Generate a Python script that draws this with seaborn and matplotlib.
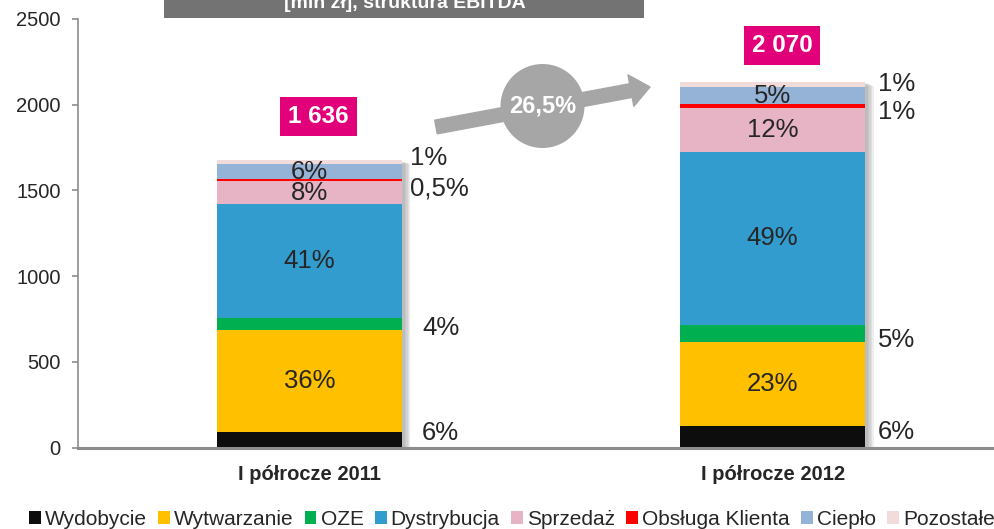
import numpy as np
import pandas as pd
import matplotlib
matplotlib.use("Agg")
import matplotlib.pyplot as plt
import matplotlib.patheffects as pe
from matplotlib.patches import Patch, Rectangle, Ellipse
import seaborn as sns

# dane [mln zl]
periods = ["I półrocze 2011", "I półrocze 2012"]
segments = ["Wydobycie", "Wytwarzanie", "OZE", "Dystrybucja", "Sprzedaż",
            "Obsługa Klienta", "Ciepło", "Pozostałe"]
values_2011 = [90, 595, 68, 666, 137, 8, 92, 19]
values_2012 = [125, 488, 103, 1009, 253, 25, 101, 27]
totals = ["1 636", "2 070"]
growth = "26,5%"
pct_2011 = ["6%", "36%", "4%", "41%", "8%", "0,5%", "6%", "1%"]
pct_2012 = ["6%", "23%", "5%", "49%", "12%", "1%", "5%", "1%"]
inside = [False, True, False, True, True, False, True, False]

colors = ["#0D0D0D", "#FFC000", "#00B050", "#339CCF", "#E6B4C4",
          "#FF0000", "#95B3D7", "#F2DCDB"]

W, H = 994, 529
sns.set_style("white")
plt.rcParams["font.family"] = ["Liberation Sans", "DejaVu Sans"]

df = pd.DataFrame({
    "period": np.repeat(periods, len(segments)),
    "segment": segments * 2,
    "value": values_2011 + values_2012,
})
df["top"] = df.groupby("period")["value"].cumsum()
df["mid"] = df["top"] - df["value"] / 2

fig = plt.figure(figsize=(W / 100, H / 100), dpi=100)
ax = fig.add_axes([78 / W, 1 - 447.5 / H, (W - 78) / W, (447.5 - 19) / H])

# miekki cien po prawej stronie slupka
shadow = [pe.SimplePatchShadow(offset=(d, -d * 0.4), shadow_rgbFace="#808080", alpha=0.13)
          for d in (6, 5, 4, 3, 2)] + [pe.Normal()]

# stos: rysujemy od najwyzszej sumy w dol
for i, seg in reversed(list(enumerate(segments))):
    n_before = len(ax.patches)
    sns.barplot(data=df[df["segment"] == seg], x="period", y="top", order=periods,
                color=colors[i], saturation=1, width=0.4, ax=ax, linewidth=0)
    if i == len(segments) - 1:
        for p in ax.patches[n_before:]:
            p.set_path_effects(shadow)

ax.set_xlim(-0.5, 1.478)
ax.set_ylim(0, 2500)
ax.set_yticks(range(0, 2501, 500))
ax.set_xlabel("")
ax.set_ylabel("")
for s in ["top", "right"]:
    ax.spines[s].set_visible(False)
ax.spines["left"].set_color("#8C8C8C")
ax.spines["left"].set_linewidth(1.2)
ax.spines["bottom"].set_color("#8C8C8C")
ax.spines["bottom"].set_linewidth(2.2)
ax.spines["bottom"].set_zorder(4)
ax.tick_params(axis="y", left=True, length=4.5, width=1.2, color="#8C8C8C", pad=8, labelsize=14.5)
ax.tick_params(axis="x", bottom=False, pad=9, labelsize=14.5)
for t in ax.get_xticklabels():
    t.set_fontweight("bold")

# etykiety procentowe
out_pos = {0: [(0.243, 85), (0.243, 697), (0.217, 1513), (0.217, 1688)],
           1: [(1.228, 90), (1.228, 627), (1.228, 1956), (1.228, 2120)]}
for j, (period, pcts) in enumerate(zip(periods, [pct_2011, pct_2012])):
    sub = df[df["period"] == period].reset_index(drop=True)
    k = 0
    for i in range(len(segments)):
        if inside[i]:
            ax.text(j, sub.loc[i, "mid"], pcts[i], ha="center", va="center", fontsize=18.5)
        else:
            x, y = out_pos[j][k]
            k += 1
            ax.text(x, y, pcts[i], ha="left", va="center", fontsize=18.5)

# sumy w magentowych ramkach
for j, (tot, y) in enumerate(zip(totals, [1930, 2347])):
    ax.text(j + 0.02, y, tot, ha="center", va="center", fontsize=17.5, fontweight="bold",
            color="white", bbox=dict(boxstyle="square,pad=0.33", fc="#E2007A", ec="none"))

# strzalka i kolo z dynamika
def fp(x, y):
    return x / W, 1 - y / H

ax.annotate("", xy=fp(650, 87), xytext=fp(436, 127), xycoords="figure fraction",
            textcoords="figure fraction",
            arrowprops=dict(arrowstyle="simple,head_width=2.3,head_length=1.4,tail_width=1",
                            mutation_scale=10, color="#A6A6A6", shrinkA=0, shrinkB=0))
cx, cy = fp(542.5, 106)
fig.patches.append(Ellipse((cx, cy), 84 / W, 84 / H, transform=fig.transFigure,
                           fc="#A6A6A6", ec="none", zorder=5))
fig.text(cx, cy, growth, ha="center", va="center", fontsize=17, fontweight="bold",
         color="white", zorder=6)

# naglowek (uciety u gory)
fig.patches.append(Rectangle(fp(164, 17.7), 480 / W, 20 / H, transform=fig.transFigure,
                             fc="#737373", ec="none", zorder=5))
fig.text(405 / W, 1 - 8.5 / H, "[mln zł], struktura EBITDA", ha="center", va="baseline",
         fontsize=14, fontweight="bold", color="white", zorder=6)

handles = [Patch(facecolor=c, edgecolor="none", label=s) for s, c in zip(segments, colors)]
fig.legend(handles=handles, loc="lower center", bbox_to_anchor=(0.515, -0.035), ncol=8,
           frameon=False, fontsize=15, handlelength=0.55, handleheight=0.55,
           handletextpad=0.2, columnspacing=0.55)

fig.savefig("out.png", dpi=100)
